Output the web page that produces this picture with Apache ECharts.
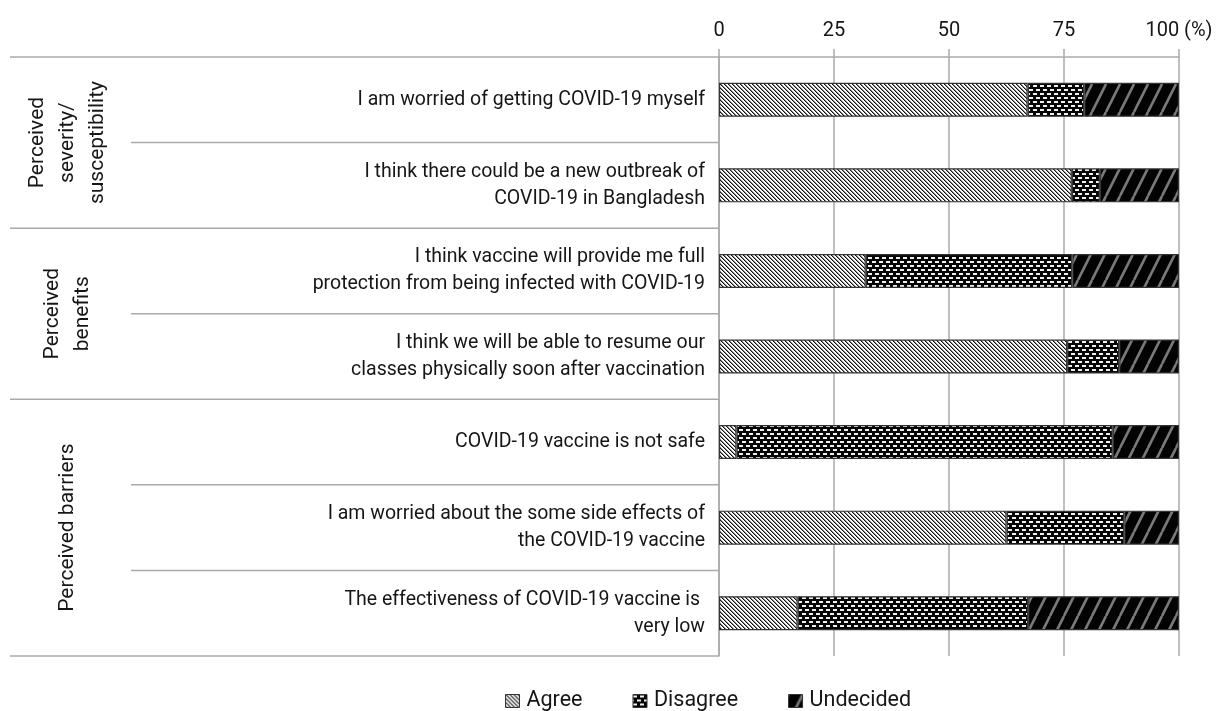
<!DOCTYPE html>
<html>
<head>
<meta charset="utf-8">
<script src="https://cdn.jsdelivr.net/npm/echarts@6/dist/echarts.min.js"></script>
<style>
html,body{margin:0;padding:0;background:#fff;}
#chart{width:1216px;height:711px;}
</style>
</head>
<body>
<div id="chart"></div>
<script>
const categories = [
  'I am worried of getting COVID-19 myself',
  'I think there could be a new outbreak of\nCOVID-19 in Bangladesh',
  'I think vaccine will provide me full\nprotection from being infected with COVID-19',
  'I think we will be able to resume our\nclasses physically soon after vaccination',
  'COVID-19 vaccine is not safe',
  'I am worried about the some side effects of\nthe COVID-19 vaccine',
  'The effectiveness of COVID-19 vaccine is \nvery low'
];
const agree     = [67.1, 76.7, 31.9, 75.7, 3.8, 62.5, 17.1];
const disagree  = [12.3, 6.1, 44.9, 11.3, 81.8, 25.6, 50.1];
const undecided = [20.6, 17.2, 23.2, 13.0, 14.4, 11.9, 32.8];
const seriesNames = ['Agree', 'Disagree', 'Undecided'];
const groupNames = ['Perceived\nseverity/\nsusceptibility', 'Perceived\nbenefits', 'Perceived barriers'];
const groupSizes = [2, 2, 3];
const xTicks = [0, 25, 50, 75, 100];

const FONT = 'Roboto';
const TEXT = '#161616';

function makeAgree() {
  const c = document.createElement('canvas'); c.width = 4; c.height = 4;
  const g = c.getContext('2d');
  g.fillStyle = '#fff'; g.fillRect(0, 0, 4, 4);
  for (let y = 0; y < 4; y++) {
    g.fillStyle = '#111'; g.fillRect(y % 4, y, 1, 1);
    g.fillStyle = '#8a8a8a'; g.fillRect((y + 1) % 4, y, 1, 1);
  }
  return c;
}
function makeDisagree() {
  const c = document.createElement('canvas'); c.width = 14; c.height = 8;
  const g = c.getContext('2d');
  g.fillStyle = '#050505'; g.fillRect(0, 0, 14, 8);
  g.fillStyle = '#f0f0f0';
  g.fillRect(0, 1, 4, 2); g.fillRect(7, 1, 4, 2);
  g.fillRect(4, 5, 4, 2); g.fillRect(11, 5, 3, 2); g.fillRect(0, 5, 1, 2);
  return c;
}
function makeUndecided() {
  const c = document.createElement('canvas'); c.width = 14; c.height = 28;
  const g = c.getContext('2d');
  g.fillStyle = '#030303'; g.fillRect(0, 0, 14, 28);
  g.strokeStyle = '#7a7a7a'; g.lineWidth = 2.6;
  [[-14, 28, 0, 0], [0, 28, 14, 0], [14, 28, 28, 0]].forEach(function (l) {
    g.beginPath(); g.moveTo(l[0], l[1]); g.lineTo(l[2], l[3]); g.stroke();
  });
  return c;
}
const patterns = [makeAgree(), makeDisagree(), makeUndecided()];
const values = [agree, disagree, undecided];

const chart = echarts.init(document.getElementById('chart'), null, {renderer: 'canvas'});

const option = {
  animation: false,
  textStyle: {fontFamily: FONT},
  grid: {left: 719, right: 37, top: 57, bottom: 55, containLabel: false},
  legend: {
    left: 500, top: 685,
    itemWidth: 14, itemHeight: 13, itemGap: 50,
    textStyle: {fontSize: 21.5, color: TEXT, fontFamily: FONT, padding: [0, 0, 0, 2]},
    data: seriesNames.map(function (n, i) {
      return {name: n, icon: 'rect', itemStyle: {color: {image: patterns[i], repeat: 'repeat'}, borderColor: '#333', borderWidth: 1}};
    })
  },
  xAxis: {
    type: 'value', position: 'top', min: 0, max: 100, interval: 25,
    axisLine: {show: true, lineStyle: {color: '#aaa', width: 1.5}},
    axisTick: {show: true, length: 8, lineStyle: {color: '#aaa', width: 1.5}},
    splitLine: {show: true, lineStyle: {color: '#aaa', width: 1.5}},
    axisLabel: {
      fontSize: 20, color: TEXT, margin: 16, fontFamily: FONT,
      formatter: function (v) { return xTicks.indexOf(v) < 0 ? '' : (v === 100 ? '100 (%)' : String(v)); }
    }
  },
  yAxis: {
    type: 'category', inverse: true, data: categories,
    axisLine: {show: true, lineStyle: {color: '#aaa', width: 1.5}},
    axisTick: {show: false},
    axisLabel: {fontSize: 19.5, color: TEXT, margin: 14, lineHeight: 27, align: 'right', fontFamily: FONT}
  },
  series: seriesNames.map(function (n, i) {
    return {
      name: n, type: 'bar', stack: 'total', barWidth: 34,
      data: values[i],
      itemStyle: {color: {image: patterns[i], repeat: 'repeat'}, borderColor: '#333', borderWidth: 1.2}
    };
  })
};
chart.setOption(option);

function drawGuides() {
  const c0 = chart.convertToPixel({yAxisIndex: 0}, 0);
  const c1 = chart.convertToPixel({yAxisIndex: 0}, 1);
  const band = c1 - c0;
  const xAxisPx = chart.convertToPixel({xAxisIndex: 0}, 0);
  const groupStarts = [0];
  groupSizes.forEach(function (s, i) { groupStarts.push(groupStarts[i] + s); });
  const elements = [];
  for (let k = 0; k <= categories.length; k++) {
    const y = c0 - band / 2 + k * band;
    const isGroup = groupStarts.indexOf(k) >= 0;
    elements.push({
      type: 'line', silent: true,
      shape: {x1: isGroup ? 10 : 131, y1: y, x2: xAxisPx, y2: y},
      style: {stroke: '#aaa', lineWidth: 1.5}
    });
  }
  groupNames.forEach(function (name, gi) {
    const yTop = c0 - band / 2 + groupStarts[gi] * band;
    const yBot = c0 - band / 2 + groupStarts[gi + 1] * band;
    elements.push({
      type: 'text', silent: true,
      x: 68, y: (yTop + yBot) / 2, rotation: Math.PI / 2,
      style: {text: name, fontSize: 21, lineHeight: 30, fill: TEXT, fontFamily: FONT, align: 'center', verticalAlign: 'middle'}
    });
  });
  chart.setOption({graphic: {elements: elements}});
}
drawGuides();
</script>
</body>
</html>
